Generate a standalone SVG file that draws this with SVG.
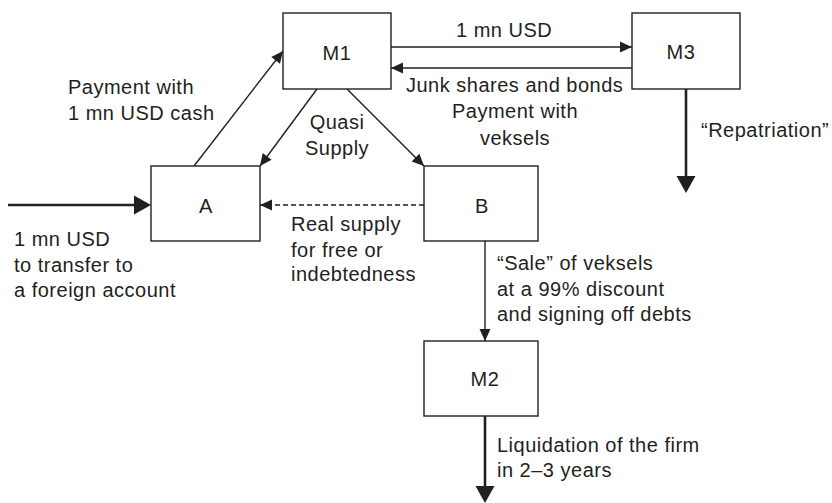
<svg xmlns="http://www.w3.org/2000/svg" width="832" height="503" viewBox="0 0 832 503">
<defs>
<style>
.box{fill:#fff;stroke:#231f20;stroke-width:1.4}
.t{font-family:"Liberation Sans",Arial,sans-serif;font-size:20px;fill:#231f20;letter-spacing:0.5px}
.c{text-anchor:middle}
.thin{stroke:#231f20;stroke-width:1.4;fill:none}
.thick{stroke:#231f20;stroke-width:2.6;fill:none}
.dash{stroke:#231f20;stroke-width:1.4;fill:none;stroke-dasharray:5 3}
</style>
<marker id="ah" markerUnits="userSpaceOnUse" markerWidth="12" markerHeight="12" refX="12" refY="5.5" orient="auto" overflow="visible">
<path d="M0,0 L12,5.5 L0,11 z" fill="#231f20"/>
</marker>
<marker id="ahb" markerUnits="userSpaceOnUse" markerWidth="18" markerHeight="20" refX="9" refY="9.5" orient="auto" overflow="visible">
<path d="M0,0 L17,9.5 L0,19 z" fill="#231f20"/>
</marker>
</defs>
<rect width="832" height="503" fill="#fff"/>
<g id="connectors">
<line class="thick" x1="8" y1="205" x2="143" y2="205" marker-end="url(#ahb)"/>
<line class="thin" x1="194" y1="166" x2="283" y2="51" marker-end="url(#ah)"/>
<line class="thin" x1="317" y1="89" x2="260" y2="166" marker-end="url(#ah)"/>
<line class="thin" x1="347" y1="89" x2="424" y2="166" marker-end="url(#ah)"/>
<line class="thin" x1="391" y1="47" x2="632" y2="47" marker-end="url(#ah)"/>
<line class="thin" x1="632" y1="68" x2="391" y2="68" marker-end="url(#ah)"/>
<line class="thick" x1="686" y1="89" x2="686" y2="185" marker-end="url(#ahb)"/>
<line class="dash" x1="424" y1="205" x2="260" y2="205" marker-end="url(#ah)"/>
<line class="thin" x1="485" y1="241" x2="485" y2="341" marker-end="url(#ah)"/>
<line class="thick" x1="485" y1="416" x2="485" y2="495" marker-end="url(#ahb)"/>
<text class="t" x="68" y="94">Payment with</text>
<text class="t" x="68" y="120">1 mn USD cash</text>
<text class="t c" x="337" y="129">Quasi</text>
<text class="t c" x="337" y="155">Supply</text>
<text class="t" x="14" y="246">1 mn USD</text>
<text class="t" x="14" y="272">to transfer to</text>
<text class="t" x="14" y="297">a foreign account</text>
<text class="t" x="291" y="231">Real supply</text>
<text class="t" x="291" y="257">for free or</text>
<text class="t" x="291" y="281">indebtedness</text>
<text class="t" x="456" y="37">1 mn USD</text>
<text class="t" x="406" y="92">Junk shares and bonds</text>
<text class="t c" x="515" y="118">Payment with</text>
<text class="t c" x="515" y="145">veksels</text>
<text class="t" x="701" y="137">“Repatriation”</text>
<text class="t" x="497" y="270">“Sale” of veksels</text>
<text class="t" x="497" y="296">at a 99% discount</text>
<text class="t" x="497" y="321">and signing off debts</text>
<text class="t" x="497" y="452">Liquidation of the firm</text>
<text class="t" x="497" y="477">in 2–3 years</text>
</g>
<g id="M1"><rect class="box" x="283" y="13" width="108" height="76"/><text class="t c" x="337" y="60">M1</text></g>
<g id="M3"><rect class="box" x="632" y="13" width="108" height="76"/><text class="t c" x="681" y="59">M3</text></g>
<g id="A"><rect class="box" x="151" y="166" width="109" height="75"/><text class="t c" x="206" y="213">A</text></g>
<g id="B"><rect class="box" x="424" y="166" width="114" height="75"/><text class="t c" x="482" y="213">B</text></g>
<g id="M2"><rect class="box" x="424" y="341" width="114" height="75"/><text class="t c" x="485" y="386">M2</text></g>
</svg>
